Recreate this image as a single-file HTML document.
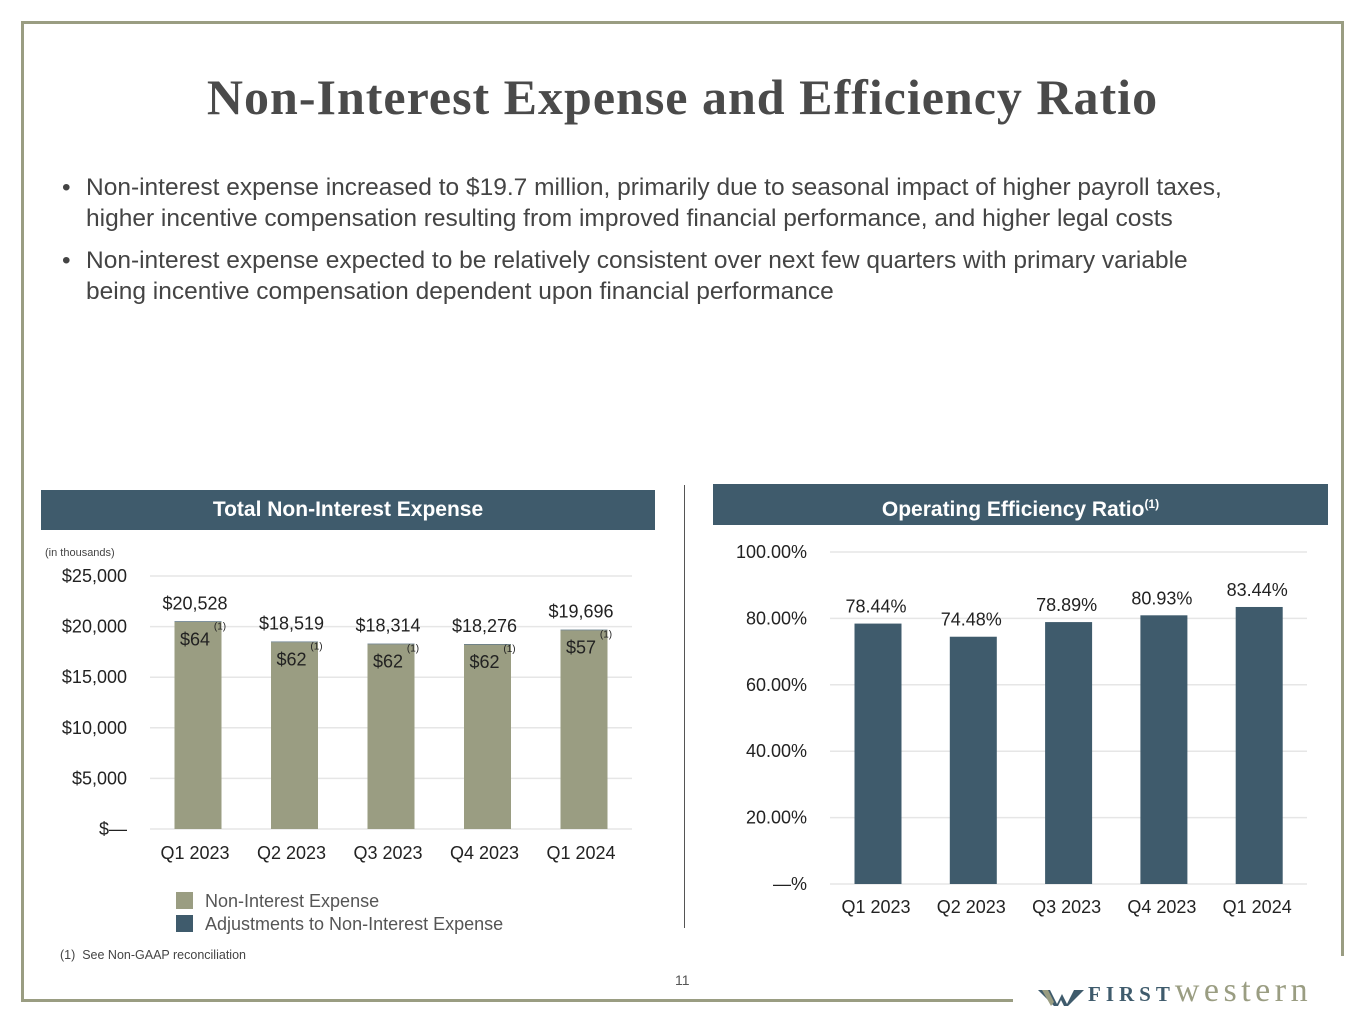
<!DOCTYPE html>
<html><head><meta charset="utf-8"><style>
body{margin:0;width:1365px;height:1024px;background:#fff;position:relative;overflow:hidden;font-family:"Liberation Sans",sans-serif}
.abs{position:absolute}
</style></head><body>
<div class="abs" style="left:22px;top:21px;width:1322px;height:3px;background:#9a9d82"></div>
<div class="abs" style="left:21px;top:21px;width:3px;height:981px;background:#9a9d82"></div>
<div class="abs" style="left:1341px;top:21px;width:3px;height:935px;background:#9a9d82"></div>
<div class="abs" style="left:21px;top:999px;width:992px;height:3px;background:#9a9d82"></div>
<div class="abs" style="left:0;width:1365px;top:68px;text-align:center;font:bold 50px 'Liberation Serif',serif;color:#4a4a4a;letter-spacing:1px">Non-Interest Expense and Efficiency Ratio</div>
<div class="abs" style="left:62px;top:172px;width:1215px;font-size:24.5px;color:#444;line-height:31px">
<div style="padding-left:24px;position:relative;margin-bottom:11px"><span style="position:absolute;left:0">•</span>Non-interest expense increased to $19.7 million, primarily due to seasonal impact of higher payroll taxes,<br>higher incentive compensation resulting from improved financial performance, and higher legal costs</div>
<div style="padding-left:24px;position:relative"><span style="position:absolute;left:0">•</span>Non-interest expense expected to be relatively consistent over next few quarters with primary variable<br>being incentive compensation dependent upon financial performance</div>
</div>
<div class="abs" style="left:41px;top:490px;width:614px;height:40px;background:#3f5b6c;color:#fff;font-weight:bold;font-size:21px;text-align:center;line-height:40px">Total Non-Interest Expense</div>
<div class="abs" style="left:713px;top:484px;width:615px;height:41px;background:#3f5b6c;color:#fff;font-weight:bold;font-size:21px;text-align:center;line-height:41px">Operating Efficiency Ratio<sup style="font-size:12px">(1)</sup></div>
<div class="abs" style="left:684px;top:485px;width:1px;height:443px;background:#555"></div>
<div class="abs" style="left:45px;top:547px;font-size:11px;color:#444">(in thousands)</div>
<div class="abs" style="left:60px;top:948px;font-size:12.5px;color:#444">(1)&nbsp; See Non-GAAP reconciliation</div>
<div class="abs" style="left:675px;top:972px;font-size:14px;color:#555">11</div>
<div class="abs" style="left:1038px;top:972px;white-space:nowrap">
<svg width="46" height="22" style="vertical-align:middle"><path d="M0 4h12l7 14 5-10 5 10 7-14h10L30 20h-4l-3-6-3 6h-4z" fill="#3f5b6c"/><path d="M4 4h6l6 12-3 4z" fill="#9a9d82"/></svg><span style="font:bold 21px 'Liberation Serif',serif;color:#3f5b6c;letter-spacing:5px;margin-left:4px">FIRST</span><span style="font:34px 'Liberation Serif',serif;color:#9a9d82;letter-spacing:4.5px">western</span></div>
<div class="abs" style="left:176px;top:890px;font-size:18px;color:#555;line-height:23px">
<div><span style="display:inline-block;width:17px;height:17px;background:#9a9d82;vertical-align:-2px;margin-right:12px"></span>Non-Interest Expense</div>
<div><span style="display:inline-block;width:17px;height:17px;background:#3f5b6c;vertical-align:-2px;margin-right:12px"></span>Adjustments to Non-Interest Expense</div>
</div>
<svg id="c" class="abs" style="left:0;top:0" width="1365" height="1024"></svg>
<script>
const categories=["Q1 2023","Q2 2023","Q3 2023","Q4 2023","Q1 2024"];
const totals=[20528,18519,18314,18276,19696];
const adjustments=[64,62,62,62,57];
const expTicks=[0,5000,10000,15000,20000,25000];
const expTickLabels=["$—","$5,000","$10,000","$15,000","$20,000","$25,000"];
const ratios=[78.44,74.48,78.89,80.93,83.44];
const ratioTicks=[0,20,40,60,80,100];
const ratioTickLabels=["—%","20.00%","40.00%","60.00%","80.00%","100.00%"];
const NS="http://www.w3.org/2000/svg";
const svg=document.getElementById('c');
function mk(t,a,txt){const e=document.createElementNS(NS,t);for(const k in a)e.setAttribute(k,a[k]);if(txt!=null)e.textContent=txt;svg.appendChild(e);return e;}
// left chart
const ly=v=>829-v/25000*253, lx=i=>198+i*96.5;
expTicks.forEach((t,i)=>{
 const g=mk('line',{x1:150,x2:632,y1:ly(t),y2:ly(t),stroke:'#e6e6e6','stroke-width':1.5});
 
 
 const l=mk('text',{x:127,y:ly(t)+6,'text-anchor':'end','font-size':18,fill:'#222'},expTickLabels[i]);
 
 
});
categories.forEach((c,i)=>{
 const base=totals[i]-adjustments[i];
 const b=mk('rect',{x:lx(i)-23.5,y:ly(base),width:47,height:829-ly(base),fill:'#9a9d82'});
 
 
 const a=mk('rect',{x:lx(i)-23.5,y:ly(totals[i]),width:47,height:Math.max(0.6,ly(base)-ly(totals[i])),fill:'#3f5b6c'});
 
 
 const tl=mk('text',{x:lx(i)-3,y:ly(totals[i])-12,'text-anchor':'middle','font-size':18,fill:'#222'},'$'+totals[i].toLocaleString('en-US'));
 
 
 const al=mk('text',{x:lx(i)-3,y:ly(totals[i])+24,'text-anchor':'middle','font-size':18,fill:'#222'},'$'+adjustments[i]);
 
 
 const fn=mk('text',{x:lx(i)+22,y:ly(totals[i])+8,'text-anchor':'middle','font-size':10,fill:'#222'},'(1)');
 
 
 const xl=mk('text',{x:lx(i)-3,y:859,'text-anchor':'middle','font-size':18,fill:'#222'},c);
 
 
});
// right chart
const ry=v=>884-v/100*332, rx=i=>878+i*95.3;
ratioTicks.forEach((t,i)=>{
 const g=mk('line',{x1:830,x2:1307,y1:ry(t),y2:ry(t),stroke:'#e6e6e6','stroke-width':1.5});
 
 
 const l=mk('text',{x:807,y:ry(t)+6,'text-anchor':'end','font-size':18,fill:'#222'},ratioTickLabels[i]);
 
 
});
categories.forEach((c,i)=>{
 const b=mk('rect',{x:rx(i)-23.5,y:ry(ratios[i]),width:47,height:884-ry(ratios[i]),fill:'#3f5b6c'});
 
 
 const vl=mk('text',{x:rx(i)-2,y:ry(ratios[i])-11,'text-anchor':'middle','font-size':18,fill:'#222'},ratios[i].toFixed(2)+'%');
 
 
 const xl=mk('text',{x:rx(i)-2,y:913,'text-anchor':'middle','font-size':18,fill:'#222'},c);
 
 
});
</script>
</body></html>
